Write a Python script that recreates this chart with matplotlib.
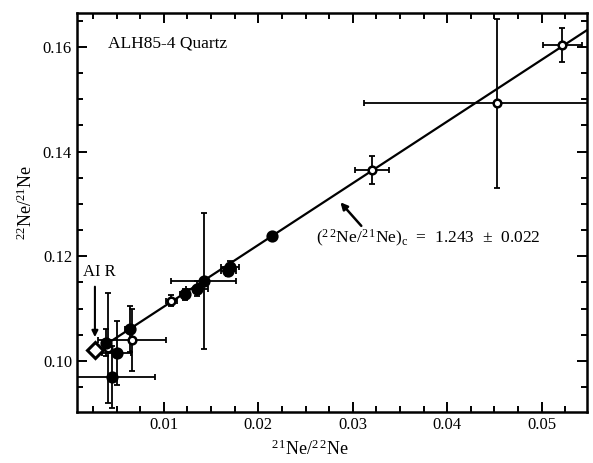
import matplotlib
matplotlib.use('Agg')
import matplotlib.pyplot as plt
from matplotlib.ticker import MultipleLocator

plt.rcParams['font.family'] = ['Liberation Serif', 'DejaVu Serif']
plt.rcParams['mathtext.fontset'] = 'custom'
plt.rcParams['mathtext.rm'] = 'Liberation Serif'
plt.rcParams['mathtext.it'] = 'Liberation Serif:italic'

# measured points: 21Ne/22Ne, 22Ne/21Ne with 1-sigma errors
ne21_22 = [0.0041, 0.0045, 0.0050, 0.0064, 0.0066, 0.0039, 0.0108, 0.0122,
           0.0135, 0.0142, 0.0168, 0.0170, 0.0214, 0.0320, 0.0453, 0.0522]
ne22_21 = [0.1025, 0.0969, 0.1015, 0.1060, 0.1040, 0.1035, 0.1115, 0.1127,
           0.1138, 0.1152, 0.1172, 0.1179, 0.1238, 0.1365, 0.1492, 0.1604]
x_err = [0.0004, 0.0046, 0.0015, 0.0005, 0.0036, 0.0004, 0.0006, 0.0005,
         0.0012, 0.0034, 0.0008, 0.0010, 0.0, 0.0018, 0.0141, 0.0021]
y_err = [0.0105, 0.0060, 0.0062, 0.0044, 0.0060, 0.0025, 0.0010, 0.0010,
         0.0015, 0.0130, 0.0010, 0.0012, 0.0, 0.0027, 0.0162, 0.0032]
is_open = [True, False, False, False, True, False, True, False,
           False, False, False, False, False, True, True, True]

air_x, air_y = 0.0027, 0.1021

# correlation line
fit_slope = 1.18
fit_intercept = 0.09855
fit_x = [0.0038, 0.0548]

fig = plt.figure(figsize=(5.93, 4.63), dpi=100)
ax = fig.add_axes([0.1298, 0.110, 0.860, 0.862])

ax.plot(fit_x, [fit_intercept + fit_slope * v for v in fit_x], color='black', lw=1.6, zorder=2)

for x, y, xe, ye, op in zip(ne21_22, ne22_21, x_err, y_err, is_open):
    ax.errorbar(x, y, xerr=xe, yerr=ye, fmt='none', ecolor='black',
                elinewidth=1.3, capsize=2.5, capthick=1.3, zorder=3)
    ax.plot(x, y, 'o', ms=7 if not op else 5.5,
            mfc='white' if op else 'black', mec='black', mew=1.8, zorder=4)

ax.plot(air_x, air_y, 'D', ms=8, mfc='white', mec='black', mew=2.2, zorder=5)
ax.text(0.0014, 0.1169, 'AI R', fontsize=12, va='center', ha='left')
ax.annotate('', xy=(air_x, 0.1040), xytext=(air_x, 0.1147),
            arrowprops=dict(arrowstyle='-|>', color='black', lw=1.5, mutation_scale=9))

ax.text(0.061, 0.924, 'ALH85-4 Quartz', transform=ax.transAxes, fontsize=12.5,
        va='center', ha='left')

ax.annotate('', xy=(0.0285, 0.1307), xytext=(0.0311, 0.1254),
            arrowprops=dict(arrowstyle='-|>', color='black', lw=1.8, mutation_scale=10))
ax.text(0.0261, 0.1233,
        r'$(^{2\,2}\mathrm{Ne}/^{2\,1}\mathrm{Ne})_{\mathrm{c}}$  =  1.243  $\pm$  0.022',
        fontsize=12.5, va='center', ha='left')

ax.set_xlim(0.0008, 0.0548)
ax.set_ylim(0.0902, 0.1665)
ax.xaxis.set_major_locator(MultipleLocator(0.01))
ax.xaxis.set_minor_locator(MultipleLocator(0.0025))
ax.yaxis.set_major_locator(MultipleLocator(0.02))
ax.yaxis.set_minor_locator(MultipleLocator(0.005))
ax.set_xticks([0.01, 0.02, 0.03, 0.04, 0.05])
ax.set_xticklabels(['0.01', '0.02', '0.03', '0.04', '0.05'])
ax.set_yticks([0.10, 0.12, 0.14, 0.16])
ax.set_yticklabels(['0.10', '0.12', '0.14', '0.16'])
ax.tick_params(which='both', direction='in', top=True, right=True, labelsize=12, width=1.4)
ax.tick_params(which='major', length=7)
ax.tick_params(which='minor', length=4)
for sp in ax.spines.values():
    sp.set_linewidth(1.8)

ax.set_xlabel(r'$^{2\,1}\mathrm{Ne}/^{2\,2}\mathrm{Ne}$', fontsize=13)
ax.set_ylabel(r'$^{22}\mathrm{Ne}/^{21}\mathrm{Ne}$', fontsize=13, fontweight='bold')
ax.xaxis.set_label_coords(0.457, -0.068)
ax.yaxis.set_label_coords(-0.08, 0.526)

fig.savefig('out.png', dpi=100)
